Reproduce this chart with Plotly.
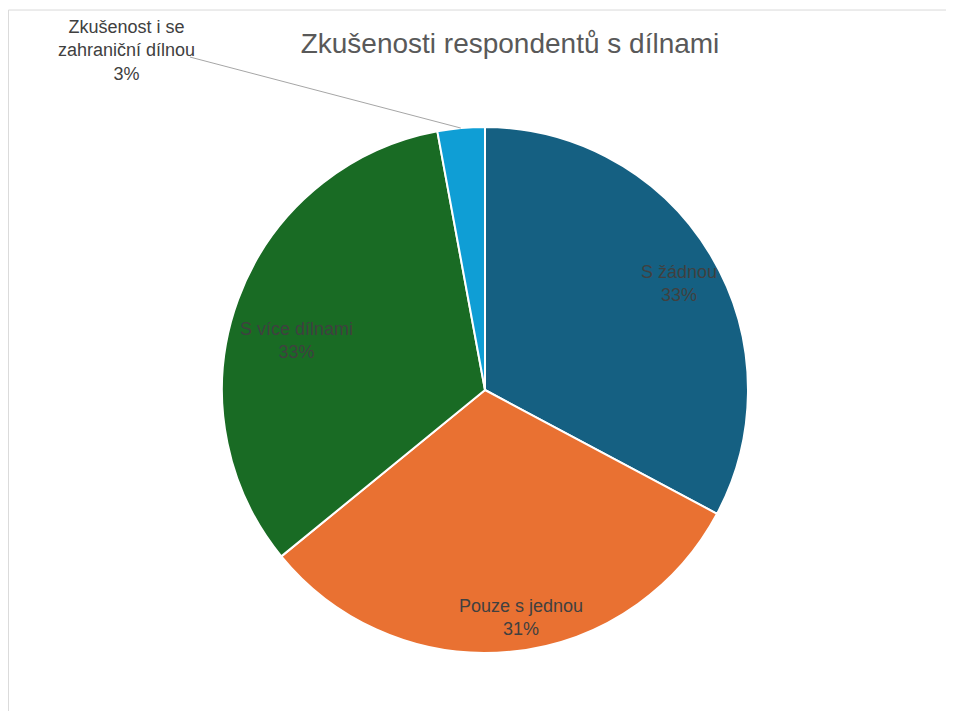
import plotly.graph_objects as go

labels = [
    "S žádnou",
    "Pouze s jednou",
    "S více dílnami",
    "Zkušenost i se zahraniční dílnou",
]
values = [32.8, 31.3, 33.0, 2.9]
colors = ["#156082", "#E97132", "#196B24", "#0F9ED5"]

# label text drawn as annotations (Excel-style placement)
label_text = [
    "S žádnou",
    "Pouze s jednou",
    "S více dílnami",
    "Zkušenost i se<br>zahraniční dílnou",
]
label_pos = [(0.869, 0.703), (0.568, 0.067), (0.141, 0.595), (-0.181, 1.145)]

total = sum(values)
fig = go.Figure(
    go.Pie(
        labels=labels,
        values=values,
        sort=False,
        direction="clockwise",
        rotation=0,
        marker=dict(colors=colors, line=dict(color="white", width=2)),
        textinfo="none",
        hoverinfo="label+percent",
        showlegend=False,
    )
)

for text, val, (x, y) in zip(label_text, values, label_pos):
    fig.add_annotation(
        x=x, y=y, xref="paper", yref="paper",
        text=f"{text}<br>{round(val / total * 100)}%",
        showarrow=False,
        font=dict(family="Liberation Sans, Arial", size=18, color="#404040"),
        xanchor="center", yanchor="middle",
    )

# leader line for the small slice
fig.add_shape(
    type="line", xref="paper", yref="paper",
    x0=-0.061, y0=1.133, x1=0.454, y1=0.998,
    line=dict(color="#a6a6a6", width=1),
)

# chart area border (top and left edges visible)
fig.add_shape(
    type="line", xref="paper", yref="paper",
    x0=-0.406, y0=1.2224, x1=1.45, y1=1.2224,
    line=dict(color="#d9d9d9", width=1),
)
fig.add_shape(
    type="line", xref="paper", yref="paper",
    x0=-0.406, y0=1.2224, x1=-0.406, y1=-0.15,
    line=dict(color="#d9d9d9", width=1),
)

fig.update_layout(
    width=954,
    height=711,
    margin=dict(l=214, r=214, t=119, b=66),
    paper_bgcolor="white",
    plot_bgcolor="white",
    title=dict(
        text="Zkušenosti respondentů s dílnami",
        x=502 / 954, xanchor="center",
        y=1 - 35 / 711, yanchor="middle",
        font=dict(family="Liberation Sans, Arial", size=28, color="#595959"),
    ),
)

fig.write_html("out.html")
